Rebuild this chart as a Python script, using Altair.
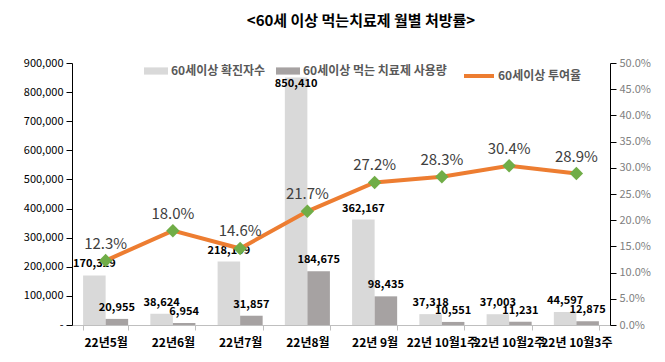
import altair as alt
import pandas as pd

categories = ["22년5월", "22년6월", "22년7월", "22년8월", "22년 9월",
              "22년 10월1주", "22년 10월2주", "22년 10월3주"]
confirmed = [170329, 38624, 218109, 850410, 362167, 37318, 37003, 44597]
used = [20955, 6954, 31857, 184675, 98435, 10551, 11231, 12875]
rate_pct = [12.3, 18.0, 14.6, 21.7, 27.2, 28.3, 30.4, 28.9]
bar_series = ["60세이상 확진자수", "60세이상 먹는 치료제 사용량"]
line_series = "60세이상 투여율"
left_ticks = [0, 100000, 200000, 300000, 400000, 500000, 600000, 700000, 800000, 900000]
right_ticks = [0, 0.05, 0.10, 0.15, 0.20, 0.25, 0.30, 0.35, 0.40, 0.45, 0.50]

FONT = "Noto Sans CJK KR"

bar_df = pd.DataFrame({
    "cat": categories * 2,
    "series": [bar_series[0]] * len(categories) + [bar_series[1]] * len(categories),
    "value": confirmed + used,
})
line_df = pd.DataFrame({
    "cat": categories,
    "rate": [r / 100 for r in rate_pct],
    "series": [line_series] * len(categories),
})

x_enc = alt.X(
    "cat:N", sort=categories, title=None,
    scale=alt.Scale(paddingInner=0.33, paddingOuter=0.165),
    axis=alt.Axis(labelAngle=0, labelFontSize=12, labelFontWeight="bold",
                  labelColor="#000000", labelPadding=7, tickBand="extent",
                  tickColor="#BFBFBF", tickSize=5, domainColor="#BFBFBF",
                  labelFont=FONT),
)
xoff = alt.XOffset("series:N", sort=bar_series, scale=alt.Scale(paddingInner=0, paddingOuter=0))
y_bar_scale = alt.Scale(domain=[0, 900000])
y_line_scale = alt.Scale(domain=[0, 0.5])

bars = alt.Chart(bar_df).mark_bar().encode(
    x=x_enc,
    xOffset=xoff,
    y=alt.Y("value:Q", scale=y_bar_scale, title=None,
            axis=alt.Axis(values=left_ticks, grid=False,
                          labelExpr="datum.value == 0 ? '-' : format(datum.value, ',')",
                          labelFontSize=11, labelColor="#000000", labelPadding=3,
                          tickSize=6, tickColor="#000000", domainColor="#000000",
                          labelFont=FONT)),
    color=alt.Color("series:N", sort=bar_series,
                    scale=alt.Scale(domain=bar_series, range=["#D9D9D9", "#A6A2A2"]),
                    legend=alt.Legend(orient="none", legendX=72, legendY=-4,
                                      direction="horizontal", title=None,
                                      symbolType="M-1,-0.3L1,-0.3L1,0.3L-1,0.3Z",
                                      symbolSize=576, symbolStrokeWidth=0,
                                      labelFontSize=12, labelColor="#595959",
                                      labelFontWeight="bold", labelFont=FONT,
                                      columnPadding=10, labelOffset=3)),
)

bar_text = alt.Chart(bar_df).transform_calculate(
    ly="min(datum.value, 790000)"
).mark_text(dy=-11, fontSize=11, font=FONT, fontWeight="bold", color="#000000").encode(
    x=alt.X("cat:N", sort=categories),
    xOffset=xoff,
    y=alt.Y("ly:Q", scale=y_bar_scale, axis=None),
    text=alt.Text("value:Q", format=","),
)

line = alt.Chart(line_df).mark_line(strokeWidth=4).encode(
    x=alt.X("cat:N", sort=categories),
    y=alt.Y("rate:Q", scale=y_line_scale, title=None,
            axis=alt.Axis(orient="right", values=right_ticks, format=".1%", grid=False,
                          labelFontSize=11, labelColor="#7F7F7F", labelPadding=3,
                          tickSize=6, tickColor="#000000", domainColor="#000000",
                          labelFont=FONT)),
    color=alt.Color("series:N",
                    scale=alt.Scale(domain=[line_series], range=["#ED7D31"]),
                    legend=alt.Legend(orient="none", legendX=390, legendY=-4,
                                      direction="horizontal", title=None,
                                      symbolType="stroke", symbolStrokeWidth=4,
                                      symbolSize=900,
                                      labelFontSize=12, labelColor="#595959",
                                      labelFontWeight="bold", labelFont=FONT,
                                      labelOffset=2)),
)

points = alt.Chart(line_df).mark_point(shape="diamond", filled=True, size=180,
                                        opacity=1, color="#70AD47").encode(
    x=alt.X("cat:N", sort=categories),
    y=alt.Y("rate:Q", scale=y_line_scale, axis=None),
)

rate_text = alt.Chart(line_df).mark_text(dy=-17, fontSize=15, font=FONT,
                                         color="#404040").encode(
    x=alt.X("cat:N", sort=categories),
    y=alt.Y("rate:Q", scale=y_line_scale, axis=None),
    text=alt.Text("rate:Q", format=".1%"),
)

chart = alt.layer(bars, bar_text, line, points, rate_text).resolve_scale(
    y="independent", color="independent"
).properties(
    width=538, height=262,
    padding={"left": 15, "top": 6, "right": 5, "bottom": 5},
    title=alt.TitleParams("<60세 이상 먹는치료제 월별 처방률>", fontSize=15,
                          fontWeight="bold", color="#000000", font=FONT,
                          anchor="middle", dx=20, offset=28),
    background="#FFFFFF",
).configure_view(stroke=None)

chart.save("out.html", embed_options={"renderer": "svg", "actions": False})
